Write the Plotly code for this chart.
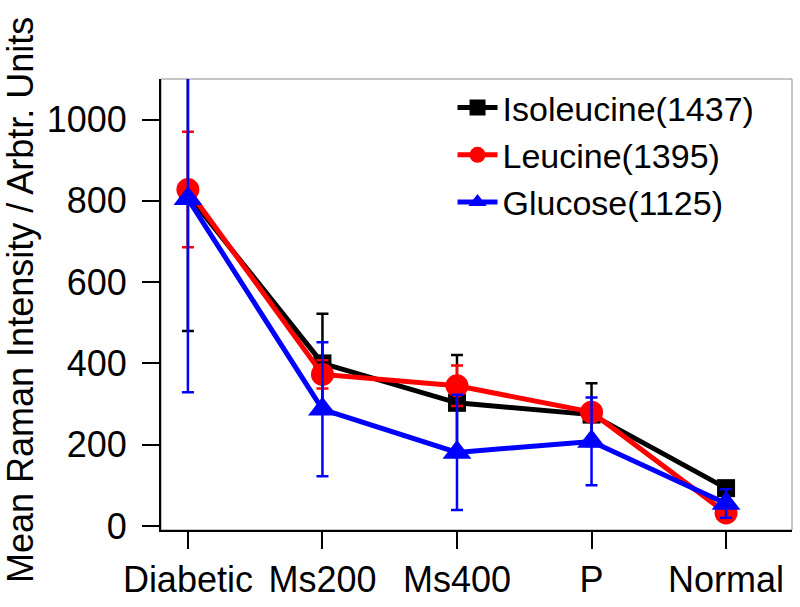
import plotly.graph_objects as go

groups = ["Diabetic", "Ms200", "Ms400", "P", "Normal"]

isoleucine = [815, 400, 303, 274, 93]
isoleucine_err = [335, 122, 118, 77, 10]

leucine = [828, 373, 345, 280, 32]
leucine_err = [142, 35, 50, 20, 10]

glucose = [805, 287, 181, 208, 55]
glucose_err = [476, 165, 142, 108, 35]

series = [
    ("Isoleucine(1437)", isoleucine, isoleucine_err, "#000000", "square", 18),
    ("Leucine(1395)", leucine, leucine_err, "#FF0000", "circle", 23),
    ("Glucose(1125)", glucose, glucose_err, "#0000FF", "triangle-up", 25),
]

fig = go.Figure()

for name, vals, errs, color, symbol, size in series:
    fig.add_trace(go.Scatter(
        x=groups,
        y=vals,
        name=name,
        mode="lines+markers",
        line=dict(color=color, width=5),
        marker=dict(symbol=symbol, size=size, color=color),
        error_y=dict(type="data", array=errs, visible=True,
                     color=color, thickness=2.5, width=6),
    ))

font = "Liberation Sans, Arial, sans-serif"

fig.update_layout(
    width=800,
    height=607,
    margin=dict(l=161, r=8, t=79, b=77),
    paper_bgcolor="white",
    plot_bgcolor="white",
    font=dict(family=font, color="black", size=36),
    showlegend=True,
    legend=dict(
        x=0.462, y=1.0, xanchor="left", yanchor="top",
        bgcolor="rgba(0,0,0,0)",
        font=dict(size=34),
        itemwidth=40,
        tracegroupgap=0,
    ),
    shapes=[dict(type="rect", xref="paper", yref="paper", x0=0, y0=0, x1=1, y1=1,
                 line=dict(color="#8c8c8c", width=1), layer="below")],
    annotations=[dict(
        text="Mean Raman Intensity / Arbtr. Units",
        xref="paper", yref="paper",
        x=-(161 - 21) / 631, y=0.51, xanchor="center", yanchor="middle",
        textangle=-90, showarrow=False,
        font=dict(size=36, family=font, color="black"),
    )],
)

fig.update_xaxes(
    range=[-0.2, 4.49],
    automargin=False,
    showgrid=False, zeroline=False,
    showline=True, linecolor="black", linewidth=2,
    ticks="outside", ticklen=17, tickwidth=2, tickcolor="black",
    tickfont=dict(size=36),
)

fig.update_yaxes(
    range=[-10, 1100],
    automargin=False,
    tickvals=[0, 200, 400, 600, 800, 1000],
    showgrid=False, zeroline=False,
    showline=True, linecolor="black", linewidth=2,
    ticks="outside", ticklen=17, tickwidth=2, tickcolor="black",
    tickfont=dict(size=36),
    ticklabelstandoff=8,
)

# drop the browser's default 8px body margin so the figure sits at 0,0
fig.write_html("out.html", config={"displayModeBar": False},
               post_script="document.body.style.margin='0';")
